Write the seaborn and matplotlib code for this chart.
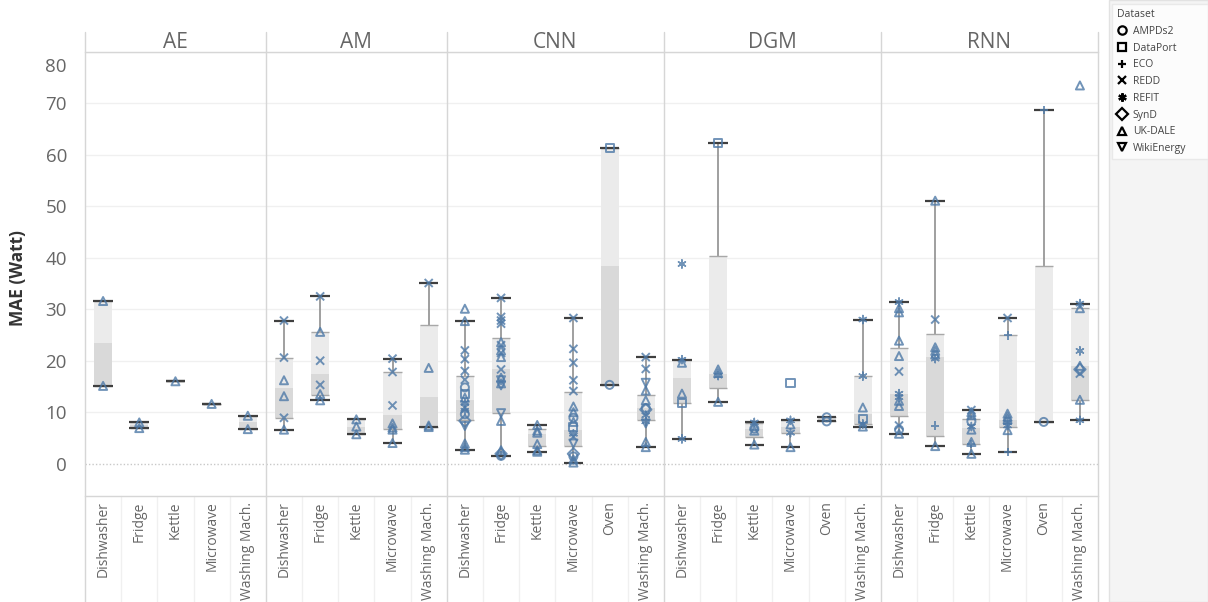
import numpy as np
import pandas as pd
import matplotlib
matplotlib.use("Agg")
import matplotlib.pyplot as plt
from matplotlib.lines import Line2D
from matplotlib.markers import MarkerStyle
from matplotlib.patches import Rectangle
from matplotlib.transforms import ScaledTranslation
import seaborn as sns

# ---------------------------------------------------------------- data
MODELS = ["AE", "AM", "CNN", "DGM", "RNN"]
APPS_5 = ["Dishwasher", "Fridge", "Kettle", "Microwave", "Washing Mach."]
APPS_6 = ["Dishwasher", "Fridge", "Kettle", "Microwave", "Oven", "Washing Mach."]
MODEL_APPS = [APPS_5, APPS_5, APPS_6, APPS_6, APPS_6]

DATASETS = ["AMPDs2", "DataPort", "ECO", "REDD", "REFIT", "SynD", "UK-DALE", "WikiEnergy"]

# individual results: (appliance, dataset, MAE in W)
AE_POINTS = [
    ("Dishwasher", "UK-DALE", 31.6), ("Dishwasher", "UK-DALE", 15.1),
    ("Fridge", "UK-DALE", 8.0), ("Fridge", "UK-DALE", 6.9),
    ("Kettle", "UK-DALE", 16.0),
    ("Microwave", "UK-DALE", 11.6),
    ("Washing Mach.", "UK-DALE", 9.3), ("Washing Mach.", "UK-DALE", 6.7),
]
AM_POINTS = [
    ("Dishwasher", "REDD", 27.8), ("Dishwasher", "REDD", 20.6), ("Dishwasher", "UK-DALE", 16.2),
    ("Dishwasher", "UK-DALE", 13.1), ("Dishwasher", "REDD", 8.9), ("Dishwasher", "UK-DALE", 6.6),
    ("Fridge", "REDD", 32.5), ("Fridge", "UK-DALE", 25.6), ("Fridge", "REDD", 20.0),
    ("Fridge", "REDD", 15.3), ("Fridge", "UK-DALE", 13.5), ("Fridge", "UK-DALE", 12.3),
    ("Kettle", "UK-DALE", 8.6), ("Kettle", "UK-DALE", 7.2), ("Kettle", "UK-DALE", 5.7),
    ("Microwave", "REDD", 20.4), ("Microwave", "REDD", 17.8), ("Microwave", "REDD", 11.3),
    ("Microwave", "UK-DALE", 7.8), ("Microwave", "UK-DALE", 7.0), ("Microwave", "UK-DALE", 6.6),
    ("Microwave", "UK-DALE", 4.0),
    ("Washing Mach.", "REDD", 35.1), ("Washing Mach.", "UK-DALE", 18.6),
    ("Washing Mach.", "UK-DALE", 7.4), ("Washing Mach.", "UK-DALE", 7.1),
]
CNN_POINTS = [
    ("Dishwasher", "UK-DALE", 30.1), ("Dishwasher", "UK-DALE", 27.7), ("Dishwasher", "REDD", 22.0),
    ("Dishwasher", "REDD", 20.3), ("Dishwasher", "REDD", 18.0), ("Dishwasher", "REDD", 16.3),
    ("Dishwasher", "AMPDs2", 14.8), ("Dishwasher", "DataPort", 13.6), ("Dishwasher", "UK-DALE", 12.8),
    ("Dishwasher", "REFIT", 11.8), ("Dishwasher", "REDD", 10.9), ("Dishwasher", "REFIT", 10.3),
    ("Dishwasher", "AMPDs2", 9.6), ("Dishwasher", "SynD", 8.3), ("Dishwasher", "WikiEnergy", 7.3),
    ("Dishwasher", "UK-DALE", 3.9), ("Dishwasher", "UK-DALE", 3.2), ("Dishwasher", "UK-DALE", 2.7),
    ("Fridge", "REDD", 32.2), ("Fridge", "REDD", 28.5), ("Fridge", "REDD", 27.8),
    ("Fridge", "REDD", 27.2), ("Fridge", "UK-DALE", 23.6), ("Fridge", "REDD", 23.0),
    ("Fridge", "UK-DALE", 22.0), ("Fridge", "REDD", 21.5), ("Fridge", "UK-DALE", 20.7),
    ("Fridge", "REDD", 18.3), ("Fridge", "UK-DALE", 16.7), ("Fridge", "WikiEnergy", 16.2),
    ("Fridge", "UK-DALE", 15.6), ("Fridge", "WikiEnergy", 15.2), ("Fridge", "WikiEnergy", 9.8),
    ("Fridge", "UK-DALE", 8.3), ("Fridge", "UK-DALE", 2.6), ("Fridge", "SynD", 1.9),
    ("Fridge", "AMPDs2", 1.5),
    ("Kettle", "UK-DALE", 7.5), ("Kettle", "UK-DALE", 6.4), ("Kettle", "UK-DALE", 6.0),
    ("Kettle", "UK-DALE", 3.8), ("Kettle", "UK-DALE", 2.6), ("Kettle", "UK-DALE", 2.3),
    ("Microwave", "REDD", 28.3), ("Microwave", "REDD", 22.3), ("Microwave", "REDD", 19.6),
    ("Microwave", "REDD", 16.2), ("Microwave", "REDD", 14.1), ("Microwave", "UK-DALE", 11.1),
    ("Microwave", "UK-DALE", 10.0), ("Microwave", "AMPDs2", 8.9), ("Microwave", "UK-DALE", 8.1),
    ("Microwave", "DataPort", 7.1), ("Microwave", "REFIT", 5.8), ("Microwave", "REDD", 5.2),
    ("Microwave", "WikiEnergy", 3.9), ("Microwave", "SynD", 1.9), ("Microwave", "AMPDs2", 1.4),
    ("Microwave", "UK-DALE", 0.8), ("Microwave", "UK-DALE", 0.2),
    ("Oven", "DataPort", 61.4), ("Oven", "AMPDs2", 15.3),
    ("Washing Mach.", "REDD", 20.7), ("Washing Mach.", "REDD", 18.4), ("Washing Mach.", "WikiEnergy", 15.7),
    ("Washing Mach.", "UK-DALE", 14.2), ("Washing Mach.", "UK-DALE", 12.3), ("Washing Mach.", "AMPDs2", 10.8),
    ("Washing Mach.", "SynD", 10.5), ("Washing Mach.", "REFIT", 9.4), ("Washing Mach.", "REFIT", 8.2),
    ("Washing Mach.", "WikiEnergy", 7.8), ("Washing Mach.", "UK-DALE", 4.2), ("Washing Mach.", "UK-DALE", 3.2),
]
DGM_POINTS = [
    ("Dishwasher", "REFIT", 38.8), ("Dishwasher", "REFIT", 20.2), ("Dishwasher", "UK-DALE", 19.6),
    ("Dishwasher", "UK-DALE", 13.6), ("Dishwasher", "DataPort", 11.7), ("Dishwasher", "REFIT", 4.8),
    ("Fridge", "DataPort", 62.4), ("Fridge", "UK-DALE", 18.3), ("Fridge", "UK-DALE", 17.6),
    ("Fridge", "REFIT", 17.1), ("Fridge", "UK-DALE", 12.0),
    ("Kettle", "REFIT", 8.0), ("Kettle", "UK-DALE", 7.3), ("Kettle", "AMPDs2", 6.8),
    ("Kettle", "UK-DALE", 6.4), ("Kettle", "UK-DALE", 3.7),
    ("Microwave", "DataPort", 15.7), ("Microwave", "REFIT", 8.4), ("Microwave", "UK-DALE", 7.6),
    ("Microwave", "REFIT", 6.0), ("Microwave", "UK-DALE", 3.2),
    ("Oven", "AMPDs2", 9.0), ("Oven", "AMPDs2", 8.2),
    ("Washing Mach.", "REFIT", 28.0), ("Washing Mach.", "REFIT", 17.0), ("Washing Mach.", "UK-DALE", 10.9),
    ("Washing Mach.", "DataPort", 8.7), ("Washing Mach.", "REFIT", 7.7), ("Washing Mach.", "UK-DALE", 7.2),
]
RNN_POINTS = [
    ("Dishwasher", "REFIT", 31.4), ("Dishwasher", "UK-DALE", 30.2), ("Dishwasher", "UK-DALE", 29.4),
    ("Dishwasher", "UK-DALE", 23.9), ("Dishwasher", "UK-DALE", 20.9), ("Dishwasher", "REDD", 17.9),
    ("Dishwasher", "REFIT", 13.6), ("Dishwasher", "REFIT", 12.9), ("Dishwasher", "UK-DALE", 12.2),
    ("Dishwasher", "UK-DALE", 11.2), ("Dishwasher", "REDD", 7.4), ("Dishwasher", "AMPDs2", 6.6),
    ("Dishwasher", "UK-DALE", 5.8),
    ("Fridge", "UK-DALE", 51.1), ("Fridge", "REDD", 28.0), ("Fridge", "UK-DALE", 22.6),
    ("Fridge", "UK-DALE", 21.9), ("Fridge", "UK-DALE", 21.2), ("Fridge", "REFIT", 20.4),
    ("Fridge", "ECO", 7.4), ("Fridge", "UK-DALE", 3.4),
    ("Kettle", "REDD", 10.4), ("Kettle", "UK-DALE", 10.0), ("Kettle", "UK-DALE", 9.4),
    ("Kettle", "AMPDs2", 8.2), ("Kettle", "REFIT", 7.2), ("Kettle", "UK-DALE", 6.6),
    ("Kettle", "UK-DALE", 4.2), ("Kettle", "ECO", 3.8), ("Kettle", "UK-DALE", 1.9),
    ("Microwave", "REDD", 28.3), ("Microwave", "ECO", 24.9), ("Microwave", "UK-DALE", 9.7),
    ("Microwave", "UK-DALE", 9.1), ("Microwave", "UK-DALE", 8.6), ("Microwave", "REFIT", 8.0),
    ("Microwave", "REFIT", 7.4), ("Microwave", "UK-DALE", 6.5), ("Microwave", "ECO", 2.3),
    ("Oven", "ECO", 68.7), ("Oven", "AMPDs2", 8.1),
    ("Washing Mach.", "UK-DALE", 73.5), ("Washing Mach.", "REFIT", 31.1), ("Washing Mach.", "UK-DALE", 30.2),
    ("Washing Mach.", "REFIT", 21.9), ("Washing Mach.", "UK-DALE", 19.0), ("Washing Mach.", "SynD", 18.3),
    ("Washing Mach.", "REDD", 17.5), ("Washing Mach.", "UK-DALE", 12.4), ("Washing Mach.", "REFIT", 8.4),
]

# box statistics per appliance: (whisker low, Q1, median, Q3, whisker high)
AE_BOX = [(15.1, 15.1, 23.35, 31.6, 31.6), (6.9, 6.9, 7.45, 8.0, 8.0), (16.0, 16.0, 16.0, 16.0, 16.0),
          (11.6, 11.6, 11.6, 11.6, 11.6), (6.7, 6.7, 8.0, 9.3, 9.3)]
AM_BOX = [(6.6, 8.9, 14.7, 20.6, 27.8), (12.3, 13.4, 17.5, 25.6, 32.5), (5.7, 5.8, 7.2, 8.6, 8.6),
          (4.0, 6.7, 9.4, 17.8, 20.4), (7.1, 7.1, 12.9, 27.0, 35.1)]
CNN_BOX = [(2.7, 8.5, 12.3, 17.0, 27.7), (1.5, 9.8, 18.3, 24.4, 32.2), (2.3, 3.4, 5.8, 6.8, 7.5),
           (0.1, 3.4, 6.6, 13.9, 28.3), (15.3, 15.3, 38.35, 61.4, 61.4), (3.2, 8.4, 10.9, 13.4, 20.7)]
DGM_BOX = [(4.8, 11.8, 16.6, 20.2, 20.2), (12.0, 14.6, 17.5, 40.4, 62.4), (3.7, 5.2, 6.8, 7.9, 8.0),
           (3.2, 6.0, 7.1, 8.4, 8.4), (8.2, 8.2, 8.6, 9.0, 9.0), (7.2, 7.6, 9.7, 17.0, 28.0)]
RNN_BOX = [(5.7, 9.2, 13.6, 22.5, 31.4), (3.4, 5.3, 20.8, 25.2, 51.1), (1.9, 3.9, 6.9, 8.7, 10.4),
           (2.3, 7.1, 8.4, 24.9, 28.3), (8.1, 8.1, 8.1, 38.4, 68.7), (8.4, 12.4, 18.9, 30.3, 31.1)]

Y_TICKS = [0, 10, 20, 30, 40, 50, 60, 70, 80]

# ---------------------------------------------------------------- style
MARKERS = ["o", "s", "+", "x", (6, 2, 0), "D", "^", "v"]
POINT_COLOR = "#4e79a7"
BOX_LOW = "#d9d9d9"
BOX_HIGH = "#ebebeb"
LINE = "#d6d6d6"
TEXT = "#666666"

sns.set_theme(style="white")
plt.rcParams["font.family"] = ["Open Sans", "DejaVu Sans"]

W, H = 1208, 602
fig = plt.figure(figsize=(W / 100, H / 100), dpi=100)
fig.patch.set_facecolor("white")

all_points = pd.concat(
    [pd.DataFrame(p, columns=["appliance", "dataset", "mae"]).assign(model=m)
     for m, p in zip(MODELS, [AE_POINTS, AM_POINTS, CNN_POINTS, DGM_POINTS, RNN_POINTS])],
    ignore_index=True)
boxes = dict(zip(MODELS, [AE_BOX, AM_BOX, CNN_BOX, DGM_BOX, RNN_BOX]))

# layout in pixels
left_px, right_px, top_px, bottom_px, header_px = 85, 1098, 52, 496, 32
n_total = sum(len(a) for a in MODEL_APPS)
cat_w = (right_px - left_px) / n_total
ylim = (-6.3, 80)

x_px = left_px
for mi, (model, apps) in enumerate(zip(MODELS, MODEL_APPS)):
    w_px = cat_w * len(apps)
    ax = fig.add_axes([x_px / W, 1 - bottom_px / H, w_px / W, (bottom_px - top_px) / H])
    ax.set_facecolor("white")

    stats = np.array(boxes[model])
    lo, q1, med, q3, hi = stats.T
    pos = np.arange(len(apps))
    pos2 = np.concatenate([pos, pos])

    # whiskers
    ax.vlines(pos, lo, q1, color="#8f8f8f", lw=1.2, zorder=1)
    ax.vlines(pos, q3, hi, color="#8f8f8f", lw=1.2, zorder=1)
    # two-tone box split at the median
    ax.bar(pos, med - q1, bottom=q1, width=0.5, color=BOX_LOW, zorder=1.5, linewidth=0)
    ax.bar(pos, q3 - med, bottom=med, width=0.5, color=BOX_HIGH, zorder=1.5, linewidth=0)
    ax.hlines(np.concatenate([q1, q3]), pos2 - 0.25, pos2 + 0.25,
              color="#a8a8a8", lw=1.0, zorder=1.8)
    # whisker caps
    ax.hlines(np.concatenate([lo, hi]), pos2 - 0.27, pos2 + 0.27,
              color="#3f3f3f", lw=1.6, zorder=2)

    # individual results, one marker shape per dataset
    sub_model = all_points[all_points["model"] == model]
    for ds, mk in zip(DATASETS, MARKERS):
        sub = sub_model[sub_model["dataset"] == ds]
        if sub.empty:
            continue
        lw = 1.1 if isinstance(mk, tuple) else 1.4
        sns.stripplot(data=sub, x="appliance", y="mae", order=apps, jitter=False,
                      marker=MarkerStyle(mk, fillstyle="none"), color=POINT_COLOR,
                      size=5.8, linewidth=lw, alpha=0.8, ax=ax, zorder=3)

    # grid and zero line
    for t in Y_TICKS[1:]:
        ax.axhline(t, color="#f0f0f0", lw=1.0, zorder=0)
    ax.axhline(0, color="#c8c8c8", lw=1.0, ls=(0, (1, 1.5)), zorder=0)

    ax.set_xlim(-0.5, len(apps) - 0.5)
    ax.set_ylim(*ylim)
    ax.set_xlabel("")
    ax.set_ylabel("")
    ax.set_xticks(pos)
    ax.set_xticklabels(apps, rotation=90, fontsize=10, color=TEXT)
    ax.tick_params(axis="x", length=0, pad=4)
    ax.set_yticks(Y_TICKS)
    if mi == 0:
        ax.set_yticklabels([str(t) for t in Y_TICKS], fontsize=13.5, color=TEXT)
        ax.tick_params(axis="y", length=0, pad=13)
        top_label = ax.get_yticklabels()[-1]
        top_label.set_verticalalignment("top")
        top_label.set_transform(top_label.get_transform()
                                + ScaledTranslation(0, -0.06, fig.dpi_scale_trans))
    else:
        ax.tick_params(axis="y", left=False, labelleft=False)

    for side in ["left", "right"]:
        ax.spines[side].set_visible(False)
    for side in ["top", "bottom"]:
        ax.spines[side].set_color(LINE)
        ax.spines[side].set_linewidth(1.0)

    # faint separators between category labels
    for b in pos[1:] - 0.5:
        ax.plot([b, b], [0, -(H - bottom_px) / (bottom_px - top_px)], color="#f0f0f0", lw=1,
                transform=ax.get_xaxis_transform(), clip_on=False, zorder=0)

    # panel header
    ax.text(0.5, 1 + 10 / (bottom_px - top_px), model, transform=ax.transAxes,
            ha="center", va="center", fontsize=15, color=TEXT)

    # panel separator line through header and label area
    fig.add_artist(Line2D([x_px / W, x_px / W], [0, 1 - header_px / H],
                          transform=fig.transFigure, color=LINE, lw=1.0))
    x_px += w_px

fig.add_artist(Line2D([right_px / W, right_px / W], [0, 1 - header_px / H],
                      transform=fig.transFigure, color=LINE, lw=1.0))

fig.text(18 / W, 1 - 278 / H, "MAE (Watt)", rotation=90, ha="center", va="center",
         fontsize=12.5, fontweight="bold", color="#333333")

# legend column
fig.add_artist(Rectangle((1109 / W, 0), (W - 1109) / W, 1, transform=fig.transFigure,
                         facecolor="#f4f4f4", edgecolor="#e2e2e2", lw=1.0, zorder=0))
handles = [Line2D([], [], linestyle="none", marker=MarkerStyle(mk, fillstyle="none"),
                  color="black", markersize=6, markeredgewidth=1.6) for mk in MARKERS]
leg = fig.legend(handles, DATASETS, title="Dataset", loc="upper left",
                 bbox_to_anchor=(1112 / W, 1 - 4 / H, (W - 1112) / W, 0), mode="expand",
                 fontsize=7.5, title_fontsize=7.5, alignment="left", frameon=True,
                 facecolor="white", edgecolor="#e6e6e6", fancybox=False,
                 labelspacing=0.55, handlelength=1.0, handletextpad=0.5, borderpad=0.5,
                 borderaxespad=0)
leg.get_title().set_color("#444444")
for t in leg.get_texts():
    t.set_color("#444444")

fig.savefig("out.png", dpi=100)
